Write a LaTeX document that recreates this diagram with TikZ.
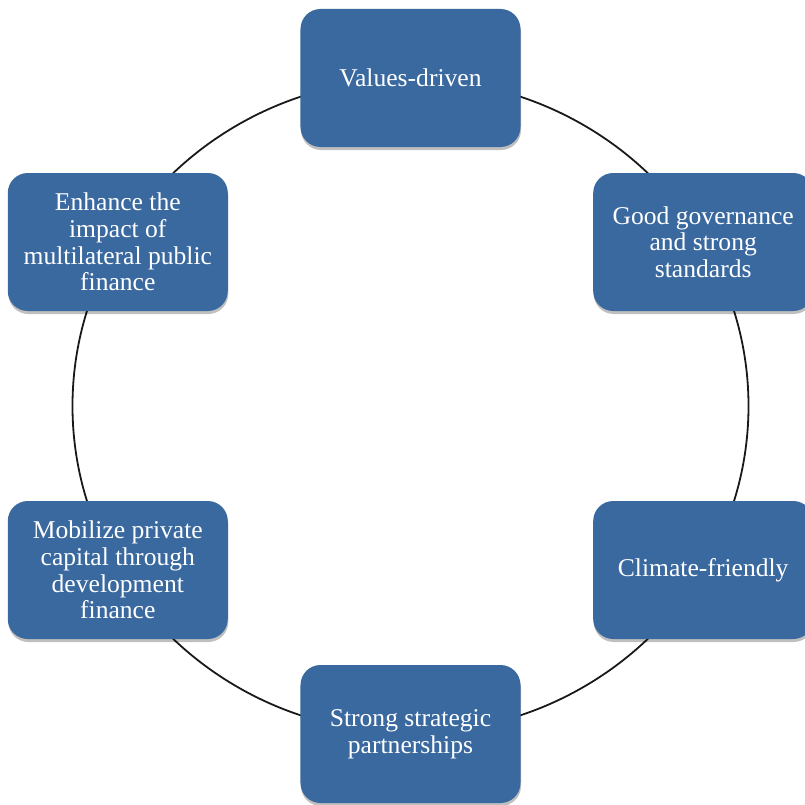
\documentclass[tikz,border=0pt]{standalone}
\usepackage{fontspec}
\setmainfont{Liberation Serif}
\usetikzlibrary{shadows}
\definecolor{goalblue}{RGB}{58,105,160}

\begin{document}
\begin{tikzpicture}[x=1pt,y=1pt,
  goal/.style={fill=goalblue, rounded corners=20pt, minimum width=220pt, minimum height=138pt,
    text=white, align=center, font=\fontsize{25.6}{26.6}\selectfont,
    drop shadow={shadow xshift=0.5pt, shadow yshift=-3pt, opacity=0.25, fill=black}},
  ring/.style={line width=1.8pt, black!90}]
  \clip (-410.5,-398) rectangle (394.5,406);
  \coordinate (ctr) at (0,0);
  % the cycle behind the boxes
  \draw[ring] (ctr) ellipse [x radius=338, y radius=327];
  \node[goal] (values)   at (0,328)        {Values-driven};
  \node[goal] (govern)   at (292.7,164)    {Good governance\\and strong\\standards};
  \node[goal] (climate)  at (292.7,-164)   {Climate-friendly};
  \node[goal] (partners) at (0,-328)       {Strong strategic\\partnerships};
  \node[goal] (mobilize) at (-292.7,-164)  {Mobilize private\\capital through\\development\\finance};
  \node[goal] (enhance)  at (-292.7,164)   {Enhance the\\impact of\\multilateral public\\finance};
\end{tikzpicture}
\end{document}
